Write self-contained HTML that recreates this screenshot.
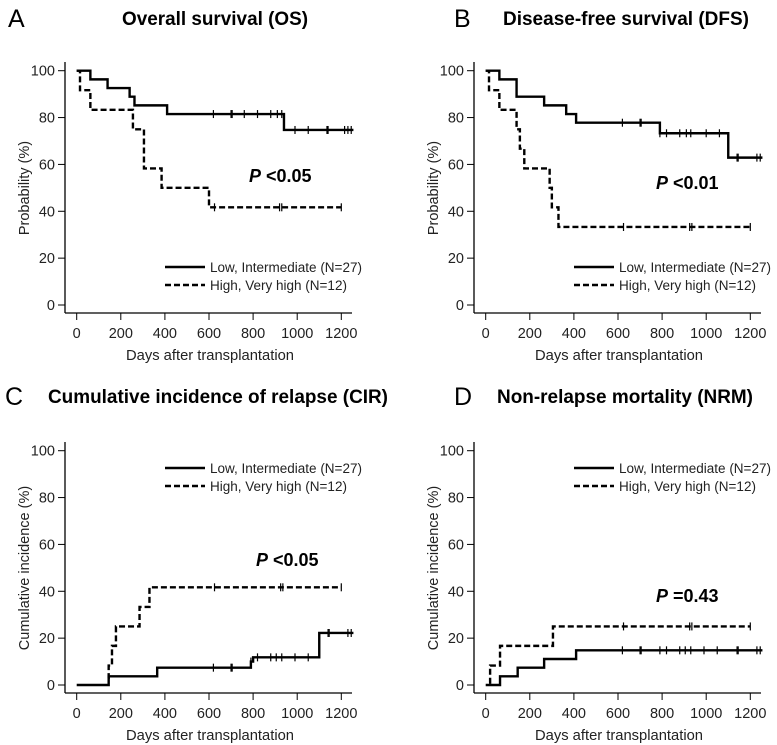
<!DOCTYPE html>
<html><head><meta charset="utf-8"><style>
html,body{margin:0;padding:0;background:#fff;}
svg{display:block;font-family:"Liberation Sans",Arial,sans-serif;}
</style></head><body>
<svg id="fig" width="777" height="745" viewBox="0 0 777 745"></svg>
<script>
// ---- data ----
const xTicks = [0,200,400,600,800,1000,1200];
const yTicks = [0,20,40,60,80,100];
const panelLetters = ["A","B","C","D"];
const panelTitles = ["Overall survival (OS)","Disease-free survival (DFS)","Cumulative incidence of relapse (CIR)","Non-relapse mortality (NRM)"];
const yLabels = ["Probability (%)","Probability (%)","Cumulative incidence (%)","Cumulative incidence (%)"];
const pValues = ["<0.05","<0.01","<0.05","=0.43"];
const legendLabels = ["Low, Intermediate (N=27)","High, Very high (N=12)"];

const aLowT = [0,62,140,240,262,410,940,1255];
const aLowV = [100,96.3,92.6,88.9,85.2,81.5,74.7,74.7];
const aLowC = [620,700,705,760,820,880,910,930,990,1050,1135,1140,1215,1230,1245];
const aHighT = [0,15,62,255,305,385,600,1200];
const aHighV = [100,91.7,83.3,75,58.3,50,41.7,41.7];
const aHighC = [625,920,930,1200];

const bLowT = [0,62,140,265,365,410,790,1100,1255];
const bLowV = [100,96.3,88.9,85.2,81.5,77.8,73.3,62.9,62.9];
const bLowC = [620,700,705,790,820,880,910,930,1000,1060,1140,1145,1230,1245];
const bHighT = [0,15,62,140,155,175,290,300,330,1200];
const bHighV = [100,91.7,83.3,75,66.7,58.3,50,41.7,33.3,33.3];
const bHighC = [625,925,935,1200];

const cLowT = [0,145,365,790,800,1100,1255];
const cLowV = [0,3.7,7.4,10,11.8,22.2,22.2];
const cLowC = [620,700,705,790,820,880,905,930,990,1050,1140,1145,1230,1245];
const cHighT = [140,145,160,178,285,330,1200];
const cHighV = [3,8.3,16.7,25,33.3,41.7,41.7];
const cHighC = [625,925,935,1200];

const dLowT = [0,65,145,265,410,1255];
const dLowV = [0,3.7,7.4,11.1,14.8,14.8];
const dLowC = [620,700,705,790,820,880,905,930,990,1050,1140,1145,1230,1245];
const dHighT = [15,20,65,305,1200];
const dHighV = [1,8.3,16.7,25,25];
const dHighC = [625,925,935,1200];

const svg = document.getElementById('fig');
const NS = "http://www.w3.org/2000/svg";
function mk(tag, attrs, parent, text){
  const e = document.createElementNS(NS, tag);
  for (const k in attrs) e.setAttribute(k, attrs[k]);
  if (text !== undefined) e.textContent = text;
  (parent||svg).appendChild(e);
  return e;
}

const panels = [
  {ox:0,oy:0,lowT:aLowT,lowV:aLowV,lowC:aLowC,highT:aHighT,highV:aHighV,highC:aHighC,legY:267,pX:249,pY:182,titleX:215,titleW:186,letterX:8},
  {ox:409,oy:0,lowT:bLowT,lowV:bLowV,lowC:bLowC,highT:bHighT,highV:bHighV,highC:bHighC,legY:267,pX:247,pY:189,titleX:217,titleW:246,letterX:45},
  {ox:0,oy:380,lowT:cLowT,lowV:cLowV,lowC:cLowC,highT:cHighT,highV:cHighV,highC:cHighC,legY:88,pX:256,pY:186,titleX:218,titleW:340,letterX:5},
  {ox:409,oy:380,lowT:dLowT,lowV:dLowV,lowC:dLowC,highT:dHighT,highV:dHighV,highC:dHighC,legY:88,pX:247,pY:222,titleX:216,titleW:256,letterX:45}
];

panels.forEach((p,i)=>{
  const g = mk('g',{transform:`translate(${p.ox},${p.oy})`});
  
  
  const xs = d => 76.7 + d*(264.6/1200);
  const ys = v => 305 - v*(234.3/100);
  const tdy = i>=2 ? -2 : 0;
  const letter = mk('text',{x:p.letterX,y:27+tdy,'font-size':25},g,panelLetters[i]);
  
  
  const title = mk('text',{x:p.titleX,y:25+tdy,'font-size':19,'font-weight':'bold','text-anchor':'middle',textLength:p.titleW,lengthAdjust:'spacingAndGlyphs'},g,panelTitles[i]);
  
  
  const ya = mk('line',{x1:65,y1:62,x2:65,y2:313,stroke:'#000','stroke-width':1.3},g);
  
  
  const xa = mk('line',{x1:65,y1:313,x2:352,y2:313,stroke:'#000','stroke-width':1.3},g);
  
  
  yTicks.forEach(v=>{
    mk('line',{x1:58,y1:ys(v),x2:65,y2:ys(v),stroke:'#000','stroke-width':1},g);
    const t = mk('text',{x:55,y:ys(v)+5,'font-size':14.5,'text-anchor':'end',fill:'#222'},g,String(v));
    
    
  });
  xTicks.forEach(v=>{
    mk('line',{x1:xs(v),y1:313,x2:xs(v),y2:320,stroke:'#000','stroke-width':1},g);
    const t = mk('text',{x:xs(v),y:338,'font-size':14.5,'text-anchor':'middle',fill:'#222'},g,String(v));
    
    
  });
  const xl = mk('text',{x:210,y:360,'font-size':14.5,'text-anchor':'middle',fill:'#222',textLength:168,lengthAdjust:'spacingAndGlyphs'},g,'Days after transplantation');
  
  
  const yl = mk('text',{x:0,y:0,'font-size':14.5,'text-anchor':'middle',fill:'#222',transform:`translate(29,188) rotate(-90)`},g,yLabels[i]);
  
  
  function steps(T,V){
    let d = `M${xs(T[0])},${ys(V[0])}`;
    for(let k=1;k<T.length;k++){ d += ` H${xs(T[k])} V${ys(V[k])}`; }
    return d;
  }
  function valAt(T,V,t){ let v=V[0]; for(let k=0;k<T.length;k++){ if(T[k]<=t) v=V[k]; } return v; }
  const sl = mk('path',{d:steps(p.lowT,p.lowV),fill:'none',stroke:'#000','stroke-width':2.4},g);
  
  
  const sh = mk('path',{d:steps(p.highT,p.highV),fill:'none',stroke:'#000','stroke-width':2.4,'stroke-dasharray':'6,3'},g);
  
  
  p.lowC.forEach(t=>{
    const y = ys(valAt(p.lowT,p.lowV,t));
    const c = mk('line',{x1:xs(t),y1:y-4,x2:xs(t),y2:y+4,stroke:'#000','stroke-width':1.2},g);
    
    
  });
  p.highC.forEach(t=>{
    const y = ys(valAt(p.highT,p.highV,t));
    const c = mk('line',{x1:xs(t),y1:y-4,x2:xs(t),y2:y+4,stroke:'#000','stroke-width':1.2},g);
    
    
  });
  const lg = mk('g',{},g);
  
  
  mk('line',{x1:165,y1:p.legY,x2:205,y2:p.legY,stroke:'#000','stroke-width':2.4},lg);
  const l1 = mk('text',{x:210,y:p.legY+5,'font-size':13.5,fill:'#222'},lg,legendLabels[0]);
  
  
  mk('line',{x1:165,y1:p.legY+18,x2:205,y2:p.legY+18,stroke:'#000','stroke-width':2.4,'stroke-dasharray':'6,3'},lg);
  const l2 = mk('text',{x:210,y:p.legY+23,'font-size':13.5,fill:'#222'},lg,legendLabels[1]);
  
  
  const pv = mk('text',{x:p.pX,y:p.pY,'font-size':18,'font-weight':'bold'},g);
  
  
  mk('tspan',{'font-style':'italic'},pv,'P');
  mk('tspan',{},pv,' '+pValues[i]);
});
</script>
</body></html>
